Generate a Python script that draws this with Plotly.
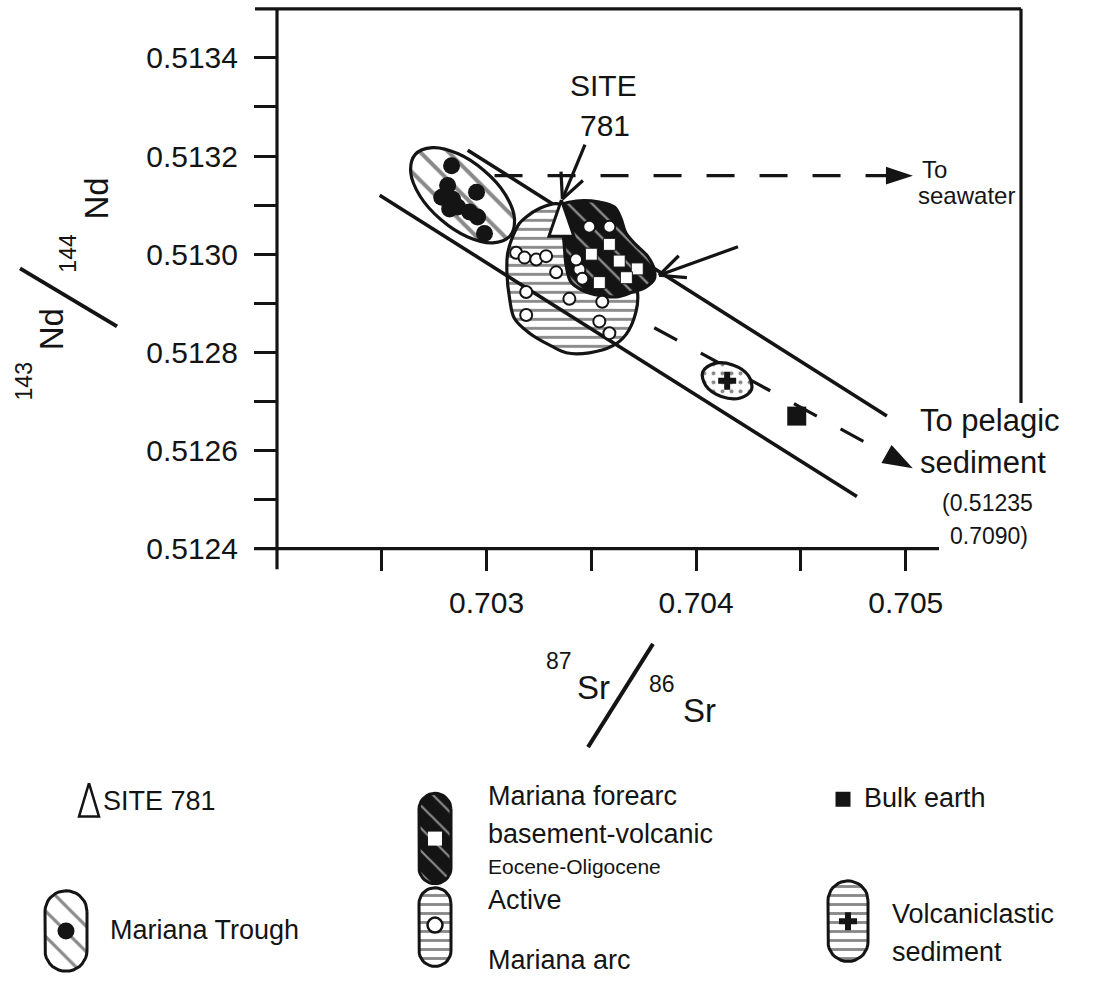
import math
import plotly.graph_objects as go

W, H = 1099, 1006

# ---------------- data ----------------
sr_range = [0.702, 0.70555]
nd_range = [0.5124, 0.5135]

sr_ticks = [0.703, 0.704, 0.705]
sr_minor = [0.7025, 0.7035, 0.7045]
nd_ticks = [0.5124, 0.5126, 0.5128, 0.5130, 0.5132, 0.5134]
nd_minor = [0.5125, 0.5127, 0.5129, 0.5131, 0.5133]

# Mariana Trough basalts
trough_sr = [0.702833, 0.702814, 0.702786, 0.702838, 0.702824, 0.702862,
             0.702952, 0.702919, 0.702957, 0.702990]
trough_nd = [0.513180, 0.513140, 0.513116, 0.513112, 0.513092, 0.513096,
             0.513126, 0.513086, 0.513076, 0.513042]

# Mariana forearc basement volcanics (Eocene-Oligocene)
forearc_sr = [0.703586, 0.703633, 0.703719, 0.703667, 0.703538, 0.703500]
forearc_nd = [0.513020, 0.512986, 0.512970, 0.512952, 0.512942, 0.513000]

# Active Mariana arc
arc_sr = [0.703141, 0.703181, 0.703237, 0.703284, 0.703332, 0.703189, 0.703189,
          0.703395, 0.703538, 0.703586, 0.703443, 0.703427, 0.703586, 0.703490,
          0.703457, 0.703552]
arc_nd = [0.513003, 0.512993, 0.512989, 0.512996, 0.512963, 0.512923, 0.512876,
          0.512909, 0.512863, 0.512839, 0.512969, 0.512989, 0.513056, 0.513056,
          0.512950, 0.512903]

site781_sr, site781_nd = 0.703357, 0.513066
bulk_sr, bulk_nd = 0.70448, 0.51267
volc_sr, volc_nd = 0.704148, 0.512742

# field outlines
trough_field_sr = [0.703112, 0.703030, 0.702910, 0.702783, 0.702683, 0.702638,
                   0.702659, 0.702741, 0.702862, 0.702989, 0.703089, 0.703133]
trough_field_nd = [0.513037, 0.513023, 0.513035, 0.513070, 0.513118, 0.513167,
                   0.513203, 0.513217, 0.513205, 0.513170, 0.513122, 0.513073]

arc_field_sr = [0.703157, 0.703125, 0.703101, 0.703097, 0.703110, 0.703133, 0.703205,
                0.703308, 0.703380, 0.703490, 0.703601, 0.703665, 0.703713, 0.703720,
                0.703665, 0.703554, 0.703427, 0.703332, 0.703252, 0.703189]
arc_field_nd = [0.513063, 0.513036, 0.513003, 0.512963, 0.512909, 0.512869, 0.512839,
                0.512813, 0.512799, 0.512799, 0.512813, 0.512836, 0.512883, 0.512923,
                0.512989, 0.513036, 0.513089, 0.513103, 0.513093, 0.513076]

forearc_field_sr = [0.703356, 0.703427, 0.703538, 0.703610, 0.703641, 0.703665, 0.703713,
                    0.703768, 0.703800, 0.703800, 0.703760, 0.703697, 0.703618, 0.703538,
                    0.703459, 0.703403, 0.703380, 0.703371, 0.703363]
forearc_field_nd = [0.513099, 0.513108, 0.513106, 0.513096, 0.513073, 0.513043, 0.513019,
                    0.512996, 0.512969, 0.512949, 0.512933, 0.512923, 0.512913, 0.512916,
                    0.512926, 0.512943, 0.512976, 0.513016, 0.513056]

volc_field_sr = [0.704264, 0.704211, 0.704120, 0.704046, 0.704031, 0.704085, 0.704175, 0.704250]
volc_field_nd = [0.512724, 0.512707, 0.512710, 0.512732, 0.512760, 0.512777, 0.512774, 0.512752]

# mixing band and mixing trends
band_lower_sr = [0.702490, 0.704767]
band_lower_nd = [0.513120, 0.512506]
band_upper_sr = [0.702910, 0.704910]
band_upper_nd = [0.513212, 0.512670]
seawater_sr = [0.703038, 0.704915]
seawater_nd = [0.51316, 0.51316]
pelagic_sr = [0.703800, 0.704925]
pelagic_nd = [0.512850, 0.512589]

# ---------------- layout geometry (pixels) ----------------
PX_L, PX_R = 277, 1021
PX_B, PX_T = 558, 9
SX = (PX_R - PX_L) / (sr_range[1] - sr_range[0])
SY = (PX_B - PX_T) / (nd_range[1] - nd_range[0])


def to_px(sr, nd):
    return PX_L + (sr - sr_range[0]) * SX, PX_B - (nd - nd_range[0]) * SY


INK = "#141414"
FONT = "Liberation Sans, Arial, sans-serif"

fig = go.Figure()


def field(xs, ys, pattern, fg, bg, size, solidity, lw=3.2):
    fig.add_trace(go.Scatter(
        x=xs + xs[:1], y=ys + ys[:1], mode="lines", fill="toself",
        line=dict(color=INK, width=lw, shape="spline", smoothing=1.0),
        fillpattern=dict(shape=pattern, fgcolor=fg, bgcolor=bg, size=size,
                         solidity=solidity),
        hoverinfo="skip", showlegend=False))


def line(xs, ys, width=3.6, dash="solid", xa="x", ya="y"):
    fig.add_trace(go.Scatter(x=xs, y=ys, mode="lines", xaxis=xa, yaxis=ya,
                             line=dict(color=INK, width=width, dash=dash),
                             hoverinfo="skip", showlegend=False))


# mixing lines under the fields
line(band_upper_sr, band_upper_nd)
line(seawater_sr, seawater_nd, width=3.2, dash="28px,25px")
line(pelagic_sr, pelagic_nd, width=3.2, dash="26px,27px")

field(trough_field_sr, trough_field_nd, "\\", INK, "white", 20, 0.2)
field(arc_field_sr, arc_field_nd, "-", INK, "white", 9, 0.32)
field(forearc_field_sr, forearc_field_nd, "\\", "white", INK, 17, 0.14)
field(volc_field_sr, volc_field_nd, ".", INK, "white", 9, 0.16)

line(band_lower_sr, band_lower_nd)

fig.add_trace(go.Scatter(x=trough_sr, y=trough_nd, mode="markers",
                         marker=dict(symbol="circle", size=17, color=INK),
                         hoverinfo="skip", showlegend=False))
fig.add_trace(go.Scatter(x=arc_sr, y=arc_nd, mode="markers",
                         marker=dict(symbol="circle", size=12, color="white",
                                     line=dict(color=INK, width=2)),
                         hoverinfo="skip", showlegend=False))
fig.add_trace(go.Scatter(x=forearc_sr, y=forearc_nd, mode="markers",
                         marker=dict(symbol="square", size=12, color="white",
                                     line=dict(color=INK, width=1)),
                         hoverinfo="skip", showlegend=False))
fig.add_trace(go.Scatter(x=[bulk_sr], y=[bulk_nd], mode="markers",
                         marker=dict(symbol="square", size=19, color=INK),
                         hoverinfo="skip", showlegend=False))
fig.add_trace(go.Scatter(x=[volc_sr], y=[volc_nd], mode="markers",
                         marker=dict(symbol="cross", size=15, color=INK),
                         hoverinfo="skip", showlegend=False))


# ---------------- overlay in pixel space ----------------
def poly(pts, fill=INK, lw=0, lc=INK):
    xs = [p[0] for p in pts] + [pts[0][0]]
    ys = [p[1] for p in pts] + [pts[0][1]]
    fig.add_trace(go.Scatter(x=xs, y=ys, xaxis="x2", yaxis="y2", mode="lines",
                             fill="toself", fillcolor=fill,
                             line=dict(color=lc, width=lw),
                             hoverinfo="skip", showlegend=False))


def arrowhead(tip, direction_deg, length=30, base=20):
    a = math.radians(direction_deg)
    ux, uy = math.cos(a), math.sin(a)
    bx, by = tip[0] - ux * length, tip[1] - uy * length
    px, py = -uy, ux
    poly([tip, (bx + px * base / 2, by + py * base / 2),
          (bx - px * base / 2, by - py * base / 2)])


def v_arrow(tail, tip, barb=28, spread=25):
    line([tail[0], tip[0]], [tail[1], tip[1]], width=3.2, xa="x2", ya="y2")
    ang = math.atan2(tail[1] - tip[1], tail[0] - tip[0])
    for s in (-1, 1):
        b = ang + s * math.radians(spread)
        line([tip[0], tip[0] + barb * math.cos(b)], [tip[1], tip[1] + barb * math.sin(b)],
             width=3.2, xa="x2", ya="y2")


def triangle(cx, cy, w, h, lw=3):
    poly([(cx, cy - h * 0.6), (cx - w / 2, cy + h * 0.4), (cx + w / 2, cy + h * 0.4)],
         fill="white", lw=lw)


# SITE 781 triangle
sx, sy = to_px(site781_sr, site781_nd)
triangle(sx, sy, 25, 37)

# arrowheads of the mixing trends
ex, ey = to_px(seawater_sr[1], seawater_nd[1])
arrowhead((ex + 25, ey), 0, length=27, base=18)
px0, py0 = to_px(pelagic_sr[0], pelagic_nd[0])
px1, py1 = to_px(pelagic_sr[1], pelagic_nd[1])
ang = math.degrees(math.atan2(py1 - py0, px1 - px0))
arrowhead((px1 + 26 * math.cos(math.radians(ang)), py1 + 26 * math.sin(math.radians(ang))),
          ang, length=30, base=21)

# pointer arrows
v_arrow((585, 147), (sx + 1, sy - 23))
v_arrow((738, 251), (659, 280))

# axis frame
for (x0, y0, x1, y1) in [(PX_L, PX_T, PX_L, 579), (254, PX_B, 939, PX_B),
                         (255, PX_T, PX_R, PX_T), (PX_R, PX_T, PX_R, 410)]:
    line([x0, x1], [y0, y1], width=3.2, xa="x2", ya="y2")

# axis-title slashes
line([20, 117], [273, 332], width=4, xa="x2", ya="y2")
line([588, 653], [760, 655], width=4, xa="x2", ya="y2")


# ---------------- legend ----------------
def pill(cx, cy, w, h, pattern, fg, bg, size, solidity):
    r = w / 2
    top, bot = cy - h / 2 + r, cy + h / 2 - r
    xs, ys = [], []
    for i in range(0, 19):
        t = math.pi * i / 18
        xs.append(cx + r * math.cos(t)); ys.append(top - r * math.sin(t))
    for i in range(18, 37):
        t = math.pi * i / 18
        xs.append(cx + r * math.cos(t)); ys.append(bot - r * math.sin(t))
    xs.append(xs[0]); ys.append(ys[0])
    fig.add_trace(go.Scatter(x=xs, y=ys, xaxis="x2", yaxis="y2", mode="lines",
                             fill="toself", line=dict(color=INK, width=3),
                             fillpattern=dict(shape=pattern, fgcolor=fg, bgcolor=bg,
                                              size=size, solidity=solidity),
                             hoverinfo="skip", showlegend=False))


def marker(x, y, symbol, size, color, lc=INK, lw=0):
    fig.add_trace(go.Scatter(x=[x], y=[y], xaxis="x2", yaxis="y2", mode="markers",
                             marker=dict(symbol=symbol, size=size, color=color,
                                         line=dict(color=lc, width=lw)),
                             hoverinfo="skip", showlegend=False))


triangle(89, 817, 20, 34, lw=2.5)
pill(435, 853, 32, 92, "\\", "white", INK, 16, 0.14)
marker(435, 853, "square", 14, "white")
marker(843, 813, "square", 15, INK)
pill(66, 947, 42, 82, "\\", INK, "white", 18, 0.18)
marker(66, 947, "circle", 17, INK)
pill(435, 943, 32, 80, "-", INK, "white", 9, 0.32)
marker(435, 941, "circle", 15, "white", lw=2.5)
pill(848, 937, 40, 82, "-", INK, "white", 9, 0.32)
marker(848, 937, "cross", 15, INK)

annotations = []


def text(x, y, s, size, family=FONT, anchor="left", angle=0):
    annotations.append(dict(x=x, y=y, xref="x2", yref="y2", text=s, showarrow=False,
                            xanchor=anchor, yanchor="middle", textangle=angle,
                            font=dict(family=family, size=size, color=INK)))


# plot labels
text(603, 87, "SITE", 30, anchor="center")
text(605, 128, "781", 30, anchor="center")
text(920, 172, "To", 24)
text(916, 199, "seawater", 24)
text(918, 428, "To pelagic", 31)
text(918, 470, "sediment", 31)
text(940, 512, "(0.51235", 23)
text(948, 545, "0.7090)", 23)

# axis titles
text(24, 388, "143", 23, anchor="center", angle=-90)
text(51, 335, "Nd", 33, anchor="center", angle=-90)
text(68, 258, "144", 23, anchor="center", angle=-90)
text(97, 202, "Nd", 33, anchor="center", angle=-90)
text(559, 672, "87", 23, anchor="center")
text(593, 699, "Sr", 33, anchor="center")
text(662, 696, "86", 23, anchor="center")
text(699, 723, "Sr", 33, anchor="center")

# legend labels
text(101, 815, "SITE 781", 27)
text(486, 810, "Mariana forearc", 27)
text(486, 848, "basement-volcanic", 27)
text(486, 881, "Eocene-Oligocene", 21)
text(862, 812, "Bulk earth", 27)
text(108, 946, "Mariana Trough", 27)
text(486, 915, "Active", 27)
text(486, 977, "Mariana arc", 27)
text(890, 930, "Volcaniclastic", 27)
text(890, 968, "sediment", 27)

tick_style = dict(ticks="outside", tickwidth=3.2, tickcolor=INK, showgrid=False,
                  zeroline=False, showline=False)

fig.update_layout(
    width=W, height=H, margin=dict(l=0, r=0, t=0, b=0),
    paper_bgcolor="white", plot_bgcolor="rgba(0,0,0,0)",
    showlegend=False, annotations=annotations,
    xaxis=dict(range=sr_range, domain=[PX_L / W, PX_R / W],
               tickmode="array", tickvals=sr_ticks, ticktext=[f"{v:.3f}" for v in sr_ticks],
               ticklen=21, tickfont=dict(family=FONT, size=30, color=INK),
               ticklabelstandoff=6,
               minor=dict(tickmode="array", tickvals=sr_minor, ticks="outside",
                          ticklen=21, tickwidth=3.2, tickcolor=INK, showgrid=False),
               **tick_style),
    yaxis=dict(range=nd_range, domain=[1 - PX_B / H, 1 - PX_T / H],
               tickmode="array", tickvals=nd_ticks, ticktext=[f"{v:.4f}" for v in nd_ticks],
               ticklen=22, tickfont=dict(family=FONT, size=30, color=INK),
               ticklabelstandoff=10,
               minor=dict(tickmode="array", tickvals=nd_minor, ticks="outside",
                          ticklen=22, tickwidth=3.2, tickcolor=INK, showgrid=False),
               **tick_style),
    xaxis2=dict(range=[0, W], domain=[0, 1], visible=False, fixedrange=True),
    yaxis2=dict(range=[H, 0], domain=[0, 1], visible=False, fixedrange=True,
                anchor="x2"),
)

fig.write_html("out.html")
